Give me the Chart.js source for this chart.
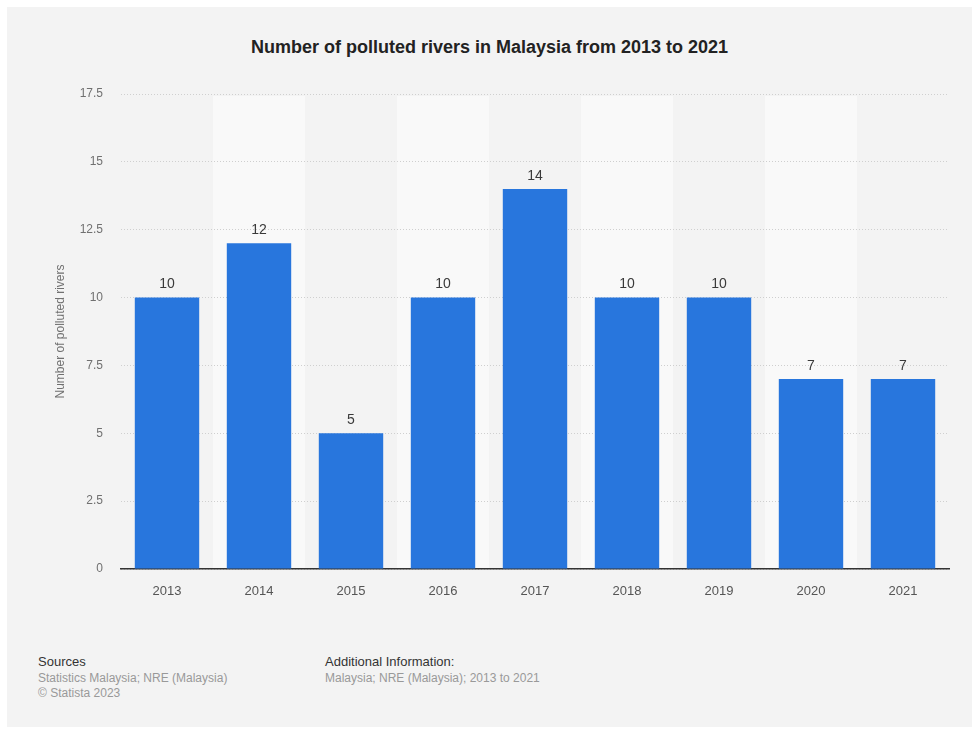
<!DOCTYPE html>
<html>
<head>
<meta charset="utf-8">
<script src="https://cdn.jsdelivr.net/npm/chart.js@4.4.0/dist/chart.umd.min.js"></script>
<style>
  body { margin: 0; background: #fff; font-family: "Liberation Sans", Arial, sans-serif; }
  #panel { position: absolute; left: 7px; top: 7px; width: 965px; height: 720px; background: #f3f3f3; }
  #title { position: absolute; left: 0; top: 30px; width: 965px; text-align: center; font-weight: bold; font-size: 18px; color: #222; }
  #wrap { position: absolute; left: 0; top: 0; width: 965px; height: 610px; }
  .foot { position: absolute; top: 647px; font-size: 12px; line-height: 15.5px; color: #999; }
  .foot b { font-weight: normal; color: #333; font-size: 13px; }
</style>
</head>
<body>
<div id="panel">
  <div id="title">Number of polluted rivers in Malaysia from 2013 to 2021</div>
  <div id="wrap"><canvas id="riversChart"></canvas></div>
  <div class="foot" style="left:31px"><b>Sources</b><br>Statistics Malaysia; NRE (Malaysia)<br>© Statista 2023</div>
  <div class="foot" style="left:318px"><b>Additional Information:</b><br>Malaysia; NRE (Malaysia); 2013 to 2021</div>
</div>
<script>
const years = ['2013', '2014', '2015', '2016', '2017', '2018', '2019', '2020', '2021'];
const pollutedRivers = [10, 12, 5, 10, 14, 10, 10, 7, 7];
const yTicks = [0, 2.5, 5, 7.5, 10, 12.5, 15, 17.5];

// light bands behind every other column
const bands = {
  id: 'bands',
  beforeDraw(chart) {
    const { ctx, chartArea, scales } = chart;
    const w = (chartArea.right - chartArea.left) / years.length;
    ctx.save();
    ctx.fillStyle = '#f9f9f9';
    years.forEach((y, i) => {
      if (i % 2 === 1) {
        const x = scales.x.getPixelForValue(i) - w / 2;
        ctx.fillRect(x, chartArea.top + 2, w, chartArea.bottom - chartArea.top - 2);
      }
    });
    ctx.restore();
  }
};

// value labels above bars
const valueLabels = {
  id: 'valueLabels',
  afterDatasetsDraw(chart) {
    const ctx = chart.ctx;
    ctx.save();
    ctx.font = '14px "Liberation Sans", Arial, sans-serif';
    ctx.fillStyle = '#3a3a3a';
    ctx.textAlign = 'center';
    ctx.textBaseline = 'bottom';
    chart.getDatasetMeta(0).data.forEach((bar, i) => {
      ctx.fillText(pollutedRivers[i], bar.x, bar.y - 6);
    });
    ctx.restore();
  }
};

new Chart(document.getElementById('riversChart'), {
  type: 'bar',
  data: {
    labels: years,
    datasets: [{
      data: pollutedRivers,
      backgroundColor: '#2876dd',
      categoryPercentage: 1,
      barPercentage: 0.7
    }]
  },
  options: {
    responsive: true,
    maintainAspectRatio: false,
    animation: false,
    layout: { padding: { top: 87, right: 23, bottom: 8, left: 0 } },
    plugins: { legend: { display: false }, tooltip: { enabled: false } },
    scales: {
      x: {
        grid: { display: false },
        border: { display: true, color: '#333', width: 1.5 },
        ticks: { color: '#555', font: { size: 13, family: '"Liberation Sans", Arial' }, padding: 7 },
        afterFit: s => { s.height = 40; }
      },
      y: {
        min: 0,
        max: 17.5,
        afterBuildTicks: s => { s.ticks = yTicks.map(v => ({ value: v })); },
        grid: { color: '#cfcfcf', lineWidth: 1, drawTicks: false },
        border: { display: false, dash: [1, 2] },
        ticks: { color: '#707070', font: { size: 12, family: '"Liberation Sans", Arial' }, padding: 18 },
        title: {
          display: true,
          text: 'Number of polluted rivers',
          color: '#707070',
          font: { size: 12, family: '"Liberation Sans", Arial' },
          padding: { top: 46, bottom: 0 }
        },
        afterFit: s => { s.width = 114; }
      }
    }
  },
  plugins: [bands, valueLabels]
});
</script>
</body>
</html>
